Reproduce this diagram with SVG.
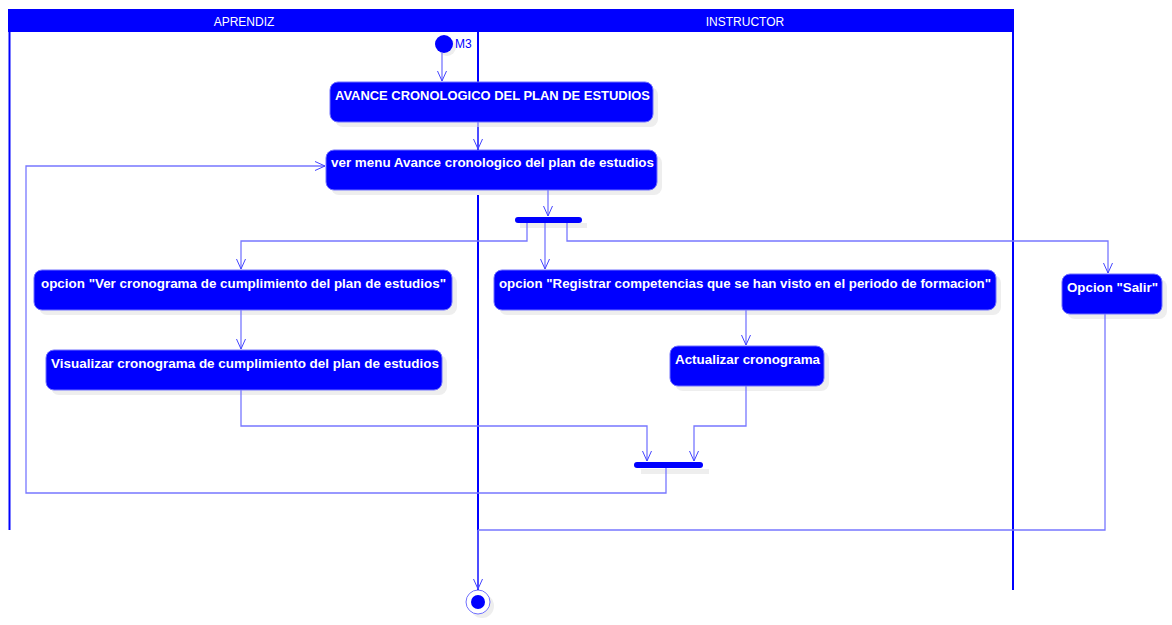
<svg xmlns="http://www.w3.org/2000/svg" width="1172" height="625" viewBox="0 0 1172 625">
<style>
.lane{fill:none;stroke:#0000ff;stroke-width:2}
.hdr{fill:#0000ff}
.htx{font-family:"Liberation Sans",Arial,sans-serif;font-size:12px;fill:#ffffff;text-anchor:middle}
.act{fill:#0000ff;stroke:#7070ff;stroke-width:1}
.sh{fill:#eeeeee}
.atx{font-family:"Liberation Sans",Arial,sans-serif;font-size:13px;font-weight:bold;fill:#ffffff}
.c{fill:none;stroke:#7777ff;stroke-width:1.3}
.bar{fill:#0000ff}
</style>
<defs>
<marker id="arr" markerWidth="12" markerHeight="14" refX="10" refY="7" orient="auto" markerUnits="userSpaceOnUse">
<path d="M0,2.5 L10,7 L0,11.5" fill="none" stroke="#4444ff" stroke-width="1"/>
</marker>
</defs>
<rect width="1172" height="625" fill="#ffffff"/>
<g id="swimlanes">
<rect class="hdr" x="8" y="9" width="1006" height="23"/>
<line class="lane" x1="9.5" y1="32" x2="9.5" y2="530"/>
<line class="lane" x1="478" y1="32" x2="478" y2="590"/>
<line class="lane" x1="1013" y1="32" x2="1013" y2="590"/>
<text class="htx" x="244" y="26">APRENDIZ</text>
<text class="htx" x="745" y="26">INSTRUCTOR</text>
</g>
<g id="initial">
<circle cx="447" cy="47" r="9" fill="#eeeeee"/>
<circle cx="444" cy="44" r="9" fill="#0000ff"/>
<text x="455" y="48" font-family="Liberation Sans,Arial,sans-serif" font-size="12" fill="#0000ff">M3</text>
</g>
<g id="n1">
<rect class="sh" x="335" y="87" width="323" height="40" rx="8"/>
<rect class="act" x="330" y="82" width="323" height="40" rx="8"/>
<text class="atx" x="335" y="100" textLength="315" lengthAdjust="spacingAndGlyphs">AVANCE CRONOLOGICO DEL PLAN DE ESTUDIOS</text>
</g>
<g id="n2">
<rect class="sh" x="331" y="155" width="331" height="40" rx="8"/>
<rect class="act" x="326" y="150" width="331" height="40" rx="8"/>
<text class="atx" x="331" y="167" textLength="323" lengthAdjust="spacingAndGlyphs">ver menu Avance cronologico del plan de estudios</text>
</g>
<g id="fork">
<rect class="sh" x="520" y="223" width="67" height="5"/>
<rect class="bar" x="515" y="217" width="67" height="6" rx="3"/>
</g>
<g id="n3">
<rect class="sh" x="39" y="275" width="418" height="40" rx="8"/>
<rect class="act" x="34" y="270" width="418" height="40" rx="8"/>
<text class="atx" x="41" y="288" textLength="405" lengthAdjust="spacingAndGlyphs">opcion "Ver cronograma de cumplimiento del plan de estudios"</text>
</g>
<g id="n4">
<rect class="sh" x="499" y="275" width="502" height="40" rx="8"/>
<rect class="act" x="494" y="270" width="502" height="40" rx="8"/>
<text class="atx" x="499" y="288" textLength="492" lengthAdjust="spacingAndGlyphs">opcion "Registrar competencias que se han visto en el periodo de formacion"</text>
</g>
<g id="n5">
<rect class="sh" x="1067" y="279" width="100" height="40" rx="8"/>
<rect class="act" x="1062" y="274" width="100" height="40" rx="8"/>
<text class="atx" x="1067" y="292" textLength="91" lengthAdjust="spacingAndGlyphs">Opcion "Salir"</text>
</g>
<g id="n6">
<rect class="sh" x="51" y="355" width="396" height="40" rx="8"/>
<rect class="act" x="46" y="350" width="396" height="40" rx="8"/>
<text class="atx" x="51" y="368" textLength="388" lengthAdjust="spacingAndGlyphs">Visualizar cronograma de cumplimiento del plan de estudios</text>
</g>
<g id="n7">
<rect class="sh" x="675" y="351" width="154" height="40" rx="8"/>
<rect class="act" x="670" y="346" width="154" height="40" rx="8"/>
<text class="atx" x="675" y="364" textLength="145" lengthAdjust="spacingAndGlyphs">Actualizar cronograma</text>
</g>
<g id="join">
<rect class="sh" x="641" y="469" width="68" height="5"/>
<rect class="bar" x="634" y="462" width="69" height="6" rx="3"/>
</g>
<g id="final">
<circle cx="482" cy="606" r="12" fill="#eeeeee"/>
<circle cx="478" cy="602" r="12" fill="#ffffff" stroke="#7070ff" stroke-width="1"/>
<circle cx="478" cy="602" r="7" fill="#0000ff"/>
</g>
<g id="connectors">
<path class="c" d="M442,53 V81" marker-end="url(#arr)"/>
<path class="c" d="M478,122 V149" marker-end="url(#arr)"/>
<path class="c" d="M548,190 V216" marker-end="url(#arr)"/>
<path class="c" d="M527,223 V241 H241 V269" marker-end="url(#arr)"/>
<path class="c" d="M545,223 V269" marker-end="url(#arr)"/>
<path class="c" d="M567,223 V241 H1108 V273" marker-end="url(#arr)"/>
<path class="c" d="M241,310 V349" marker-end="url(#arr)"/>
<path class="c" d="M746,310 V345" marker-end="url(#arr)"/>
<path class="c" d="M241,390 V426 H647 V461" marker-end="url(#arr)"/>
<path class="c" d="M746,386 V426 H694 V461" marker-end="url(#arr)"/>
<path class="c" d="M666,468 V493 H26 V166 H325" marker-end="url(#arr)"/>
<path class="c" d="M1105,314 V530 H478"/>
<path class="c" d="M478,530 V589" marker-end="url(#arr)"/>
</g>
</svg>
